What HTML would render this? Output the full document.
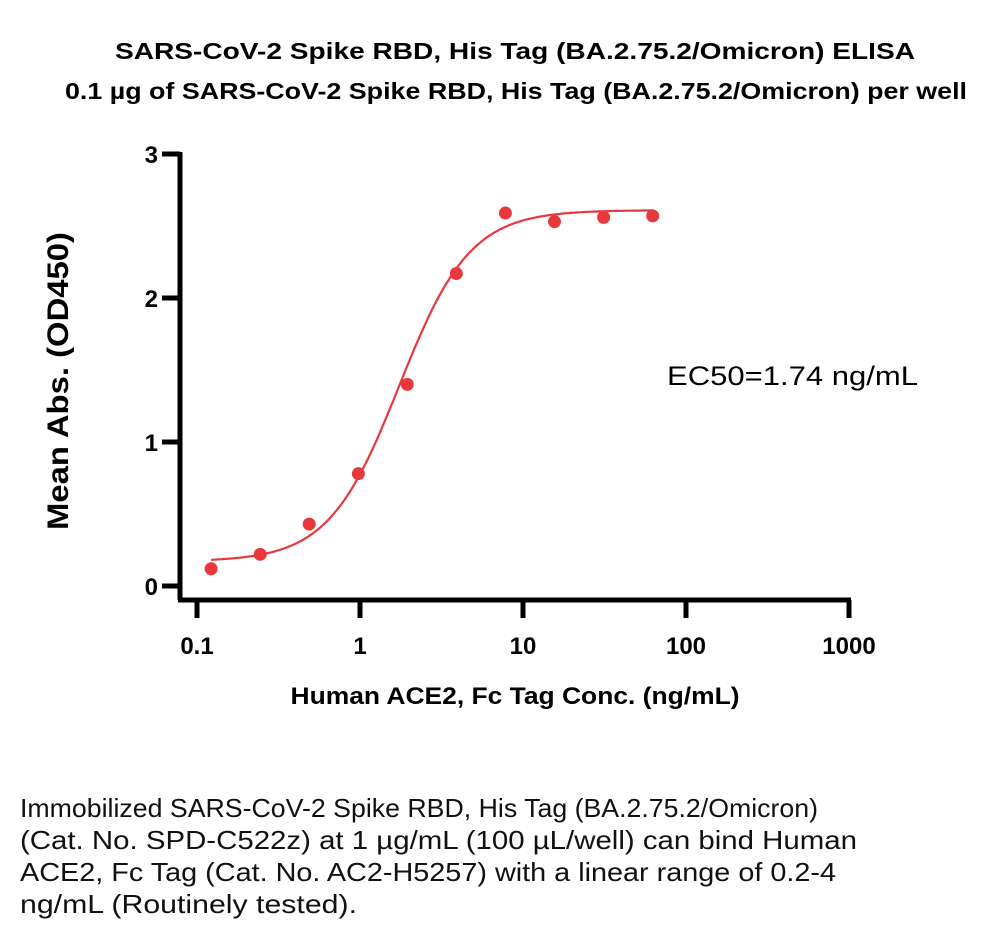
<!DOCTYPE html>
<html><head><meta charset="utf-8"><style>
body{margin:0;background:#fff;width:1000px;height:931px;overflow:hidden;font-family:"Liberation Sans",sans-serif}
svg{position:absolute;left:0;top:0}
</style></head><body>
<svg width="1000" height="931">
<text x="515" y="59" text-anchor="middle" font-size="23" font-weight="bold" textLength="800" lengthAdjust="spacingAndGlyphs">SARS-CoV-2 Spike RBD, His Tag (BA.2.75.2/Omicron) ELISA</text>
<text x="516" y="99" text-anchor="middle" font-size="23" font-weight="bold" textLength="902" lengthAdjust="spacingAndGlyphs">0.1 µg of SARS-CoV-2 Spike RBD, His Tag (BA.2.75.2/Omicron) per well</text>
<g id="axes" stroke="#000" stroke-width="5" fill="none"></g>
<g id="labels" font-size="24" font-weight="bold"></g>
<text transform="translate(68,381) rotate(-90)" text-anchor="middle" font-size="30" font-weight="bold" textLength="298" lengthAdjust="spacingAndGlyphs">Mean Abs. (OD450)</text>
<text x="515" y="704" text-anchor="middle" font-size="24" font-weight="bold" textLength="449" lengthAdjust="spacingAndGlyphs">Human ACE2, Fc Tag Conc. (ng/mL)</text>
<text x="667" y="385" font-size="27" textLength="251" lengthAdjust="spacingAndGlyphs">EC50=1.74 ng/mL</text>
<path id="curve" fill="none" stroke="#e8383d" stroke-width="2.2"></path>
<g id="pts" fill="#e8383d"></g>
<g font-size="26" fill="#111">
<text x="20" y="817" textLength="798" lengthAdjust="spacingAndGlyphs">Immobilized SARS-CoV-2 Spike RBD, His Tag (BA.2.75.2/Omicron)</text>
<text x="20" y="849" textLength="837" lengthAdjust="spacingAndGlyphs">(Cat. No. SPD-C522z) at 1 µg/mL (100 µL/well) can bind Human</text>
<text x="20" y="881" textLength="816" lengthAdjust="spacingAndGlyphs">ACE2, Fc Tag (Cat. No. AC2-H5257) with a linear range of 0.2-4</text>
<text x="20" y="913" textLength="337" lengthAdjust="spacingAndGlyphs">ng/mL (Routinely tested).</text>
</g>
</svg>
<script>
const concs=[0.122,0.244,0.488,0.977,1.95,3.9,7.8,15.6,31.25,62.5];
const values=[0.12,0.22,0.43,0.78,1.40,2.17,2.59,2.53,2.56,2.57];
const xTicks=[0.1,1,10,100,1000];
const xTickLabels=["0.1","1","10","100","1000"];
const yTicks=[0,1,2,3];
const fitBottom=0.17, fitTop=2.61, fitEC50=1.74, fitHill=2.0;
const NS="http://www.w3.org/2000/svg";
function X(v){return 197+163*Math.log10(v/0.1);}
function Y(v){return 586-144*v;}
function mk(t,a,p){const e=document.createElementNS(NS,t);for(const k in a)e.setAttribute(k,a[k]);p.appendChild(e);return e;}
const ax=document.getElementById('axes'),lb=document.getElementById('labels');
const ya=mk('path',{d:`M180,${Y(3)-2}V600`},ax);

const xa=mk('path',{d:`M178,600H${X(1000)+2}`},ax);

yTicks.forEach(v=>{const t=mk('path',{d:`M162,${Y(v)}H180`},ax);

const l=mk('text',{x:158,y:Y(v)+9,'text-anchor':'end'},lb);l.textContent=v;
});
xTicks.forEach((v,i)=>{const t=mk('path',{d:`M${X(v)},600V618`},ax);

const l=mk('text',{x:X(v),y:654,'text-anchor':'middle'},lb);l.textContent=xTickLabels[i];
});
function fit(x){return fitBottom+(fitTop-fitBottom)/(1+Math.pow(fitEC50/x,fitHill));}
let d='';const lo=Math.log10(concs[0]),hi=Math.log10(concs[concs.length-1]);
for(let i=0;i<=200;i++){const x=Math.pow(10,lo+(hi-lo)*i/200);d+=(i?'L':'M')+X(x).toFixed(1)+','+Y(fit(x)).toFixed(1);}
const c=document.getElementById('curve');c.setAttribute('d',d);

const pg=document.getElementById('pts');
concs.forEach((x,i)=>{const p=mk('circle',{cx:X(x),cy:Y(values[i]),r:6.5},pg);
});
</script>
</body></html>
